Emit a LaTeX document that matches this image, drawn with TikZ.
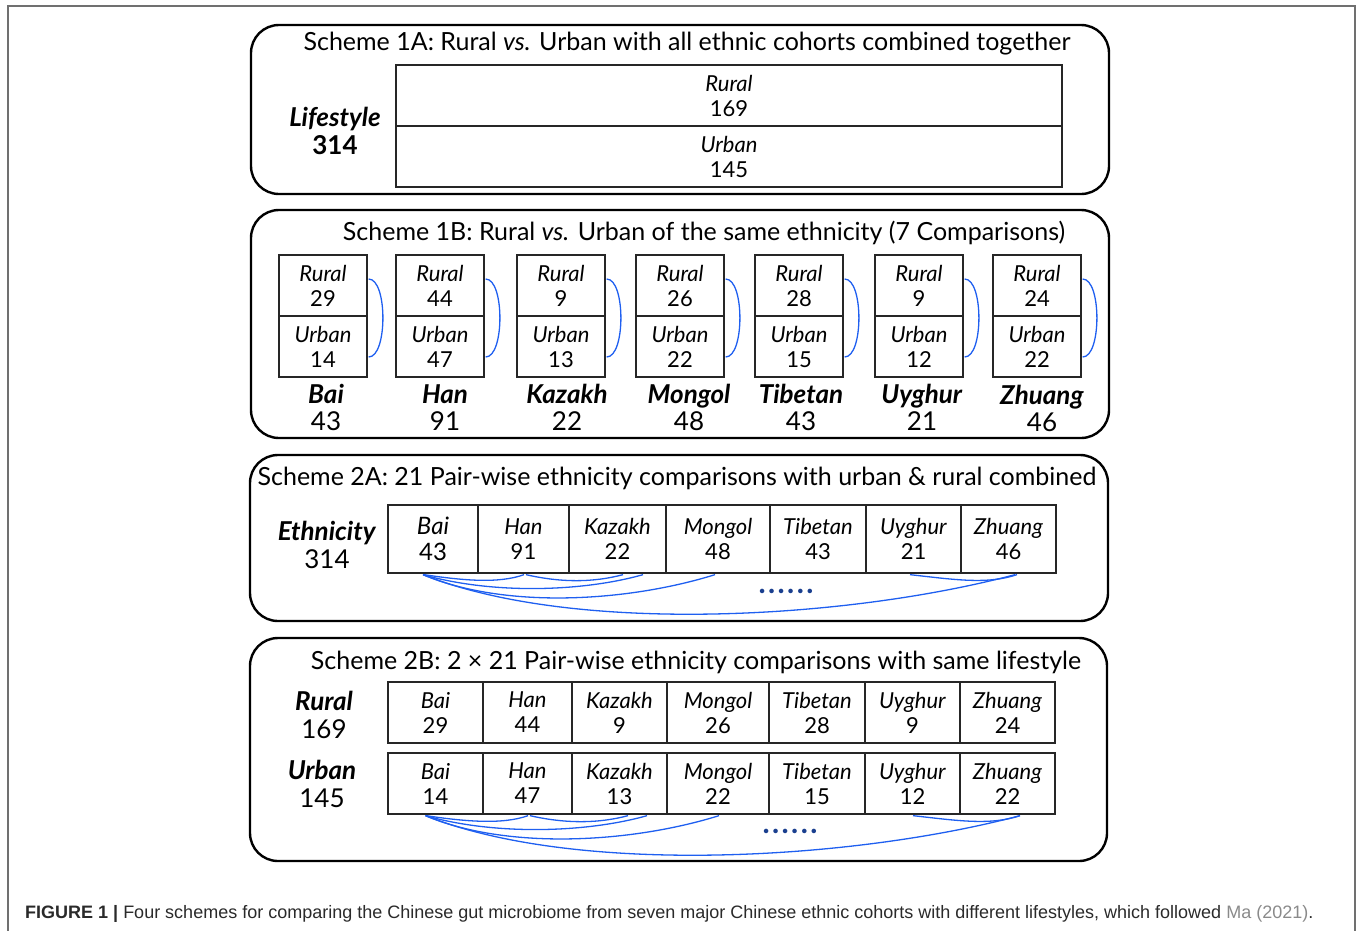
\documentclass[tikz,border=0pt]{standalone}
\usepackage{fontspec}
\setmainfont{Lato}
\newfontfamily\capfont{Liberation Sans}
\usetikzlibrary{calc}
\definecolor{arcblue}{HTML}{1F5FF0}
\definecolor{dotblue}{HTML}{1A3F8F}
\definecolor{capgray}{HTML}{2A2A2A}
\definecolor{refgray}{HTML}{8A8A8A}
\definecolor{framegray}{HTML}{707070}
\newcommand\myTitleFont{\fontsize{25}{28}\selectfont}
\newcommand\myCellFont{\fontsize{22}{25}\selectfont}
\newcommand\myLabFont{\fontsize{26}{27.5}\selectfont}
\tikzset{
  schemebox/.style={draw=black, line width=2.4pt, rounded corners=28pt, inner sep=0pt},
  cell/.style={draw=black!85, line width=1.3pt, inner sep=0pt, align=center, font=\myCellFont},
  paircell/.style={cell, minimum width=88pt, minimum height=61pt},
  rowcell/.style={cell, minimum height=61pt},
  titletext/.style={font=\myTitleFont, inner sep=0pt},
  labtext/.style={font=\myLabFont, align=center, inner sep=0pt},
  pair/.style={draw=arcblue, line width=1.3pt},
  dotstext/.style={text=dotblue, font=\fontsize{30}{30}\selectfont\bfseries, inner sep=0pt, text height=5pt, text depth=0pt},
}
\newcommand\mydots{.\kern2.4pt.\kern2.4pt.\kern2.4pt.\kern2.4pt.\kern2.4pt.}
\begin{document}
\begin{tikzpicture}[x=1pt,y=-1pt]
\useasboundingbox (0,0) rectangle (1357,930);
% outer frame
\draw[framegray, line width=1.2pt] (8,935) -- (8,6) -- (1355,6) -- (1355,935);

% ---------------- Scheme 1A
\node[schemebox, minimum width=858pt, minimum height=169pt] (s1a) at (680,109.5) {};
\node[titletext] (t1a) at (687,44) {Scheme 1A: Rural \textit{vs.} Urban with all ethnic cohorts combined together};
\node[cell, minimum width=666pt, minimum height=61pt] (r1a) at (729,95.5) {\textit{Rural}\\169};
\node[cell, minimum width=666pt, minimum height=61pt] (u1a) at (729,156.5) {\textit{Urban}\\145};
\node[labtext] (l1a) at (335,131) {\textbf{\textit{Lifestyle}}\\\textbf{314}};

% ---------------- Scheme 1B
\node[schemebox, minimum width=858pt, minimum height=228pt] (s1b) at (680,324) {};
\node[titletext] (t1b) at (704,233) {Scheme 1B: Rural \textit{vs.} Urban of the same ethnicity (7 Comparisons)};
\foreach \nm/\x/\r/\u in {bai/323/29/14, han/440/44/47, kaz/561/9/13, mon/680/26/22, tib/799/28/15, uyg/919/9/12, zhu/1037/24/22}{
  \node[paircell] (r\nm) at (\x,285.5) {\textit{Rural}\\\r};
  \node[paircell] (u\nm) at (\x,346.5) {\textit{Urban}\\\u};
  \draw[pair] ($(r\nm.east)+(1,-6.5)$) .. controls +(19,0) and +(19,0) .. ($(u\nm.east)+(1,10.5)$);
}
\node[labtext] (lbai) at (326,407.5) {\textbf{\textit{Bai}}\\43};
\node[labtext] (lhan) at (445,407.5) {\textbf{\textit{Han}}\\91};
\node[labtext] (lkaz) at (567,407.5) {\textbf{\textit{Kazakh}}\\22};
\node[labtext] (lmon) at (689,407.5) {\textbf{\textit{Mongol}}\\48};
\node[labtext] (ltib) at (801,407.5) {\textbf{\textit{Tibetan}}\\43};
\node[labtext] (luyg) at (922,407.5) {\textbf{\textit{Uyghur}}\\21};
\node[labtext] (lzhu) at (1042,408.5) {\textbf{\textit{Zhuang}}\\46};

% ---------------- Scheme 2A
\node[schemebox, minimum width=858pt, minimum height=166pt] (s2a) at (679,538) {};
\node[titletext] (t2a) at (677,478) {Scheme 2A: 21 Pair-wise ethnicity comparisons with urban \& rural combined};
\node[labtext] (l2a) at (327,545) {\textbf{\textit{Ethnicity}}\\314};
\node[cell, minimum width=90pt, minimum height=68pt, font=\fontsize{24}{26}\selectfont] (ebai) at (433,539) {\textit{Bai}\\43};
\node[cell, minimum width=91pt, minimum height=68pt] (ehan) at (523.5,539) {\textit{Han}\\91};
\node[cell, minimum width=97pt, minimum height=68pt] (ekaz) at (617.5,539) {\textit{Kazakh}\\22};
\node[cell, minimum width=104pt, minimum height=68pt] (emon) at (718,539) {\textit{Mongol}\\48};
\node[cell, minimum width=96pt, minimum height=68pt] (etib) at (818,539) {\textit{Tibetan}\\43};
\node[cell, minimum width=95pt, minimum height=68pt] (euyg) at (913.5,539) {\textit{Uyghur}\\21};
\node[cell, minimum width=95pt, minimum height=68pt] (ezhu) at (1008.5,539) {\textit{Zhuang}\\46};
\draw[pair] ($(ebai.south)+(-9,1)$) .. controls +(40,6) and +(-25,9) .. ($(ehan.south)+(0.5,1)$);
\draw[pair] ($(ehan.south)+(2.5,1)$) .. controls +(35,8) and +(-30,8) .. ($(ekaz.south)+(5.5,1)$);
\draw[pair] ($(ebai.south)+(-10,1)$) .. controls +(70,20) and +(-60,17) .. ($(ekaz.south)+(25.5,1)$);
\draw[pair] ($(ebai.south)+(-10,1)$) .. controls +(80,34) and +(-90,28) .. ($(emon.south)+(-3,1)$);
\draw[pair] ($(ebai.south)+(-10,1)$) .. controls +(150,60) and +(-170,45) .. ($(ezhu.south)+(6.5,1)$);
\draw[pair] ($(euyg.south)+(-3.5,1)$) .. controls +(45,5) and +(-30,10) .. ($(ezhu.south)+(8.5,1)$);
\node[dotstext] (d2a) at (786,591) {\mydots};

% ---------------- Scheme 2B
\node[schemebox, minimum width=857pt, minimum height=223pt] (s2b) at (678.5,749.5) {};
\node[titletext] (t2b) at (696,662) {Scheme 2B: 2 × 21 Pair-wise ethnicity comparisons with same lifestyle};
\node[labtext] (l2br) at (324,715) {\textbf{\textit{Rural}}\\169};
\node[labtext] (l2bu) at (322,784) {\textbf{\textit{Urban}}\\145};
\foreach \nm/\x/\w/\name/\r/\u in {bai/435.5/95/Bai/29/14, han/527.5/89/Han/44/47, kaz/619.5/95/Kazakh/9/13, mon/718/102/Mongol/26/22, tib/817/96/Tibetan/28/15, uyg/912.5/95/Uyghur/9/12, zhu/1007.5/95/Zhuang/24/22}{
  \node[rowcell, minimum width=\w pt] (br\nm) at (\x,712.5) {\textit{\name}\\\r};
  \node[rowcell, minimum width=\w pt] (bu\nm) at (\x,783.5) {\textit{\name}\\\u};
}
\draw[pair] ($(bubai.south)+(-9.5,1)$) .. controls +(40,6) and +(-25,9) .. ($(buhan.south)+(0.5,1)$);
\draw[pair] ($(buhan.south)+(2.5,1)$) .. controls +(35,8) and +(-30,8) .. ($(bukaz.south)+(8.5,1)$);
\draw[pair] ($(bubai.south)+(-10,1)$) .. controls +(70,20) and +(-60,17) .. ($(bukaz.south)+(27.5,1)$);
\draw[pair] ($(bubai.south)+(-10,1)$) .. controls +(80,34) and +(-90,28) .. ($(bumon.south)+(1,1)$);
\draw[pair] ($(bubai.south)+(-10,1)$) .. controls +(150,60) and +(-170,45) .. ($(buzhu.south)+(12.5,1)$);
\draw[pair] ($(buuyg.south)+(0.5,1)$) .. controls +(45,5) and +(-30,10) .. ($(buzhu.south)+(12.5,1)$);
\node[dotstext] (d2b) at (790,831) {\mydots};

% ---------------- caption
\node[anchor=base west, inner sep=0pt, text=capgray, font=\capfont\fontsize{18}{20}\selectfont] (cap) at (25,918)
 {\textbf{FIGURE 1 |} Four schemes for comparing the Chinese gut microbiome from seven major Chinese ethnic cohorts with different lifestyles, which followed \textcolor{refgray}{Ma (2021)}.};
\end{tikzpicture}
\end{document}
